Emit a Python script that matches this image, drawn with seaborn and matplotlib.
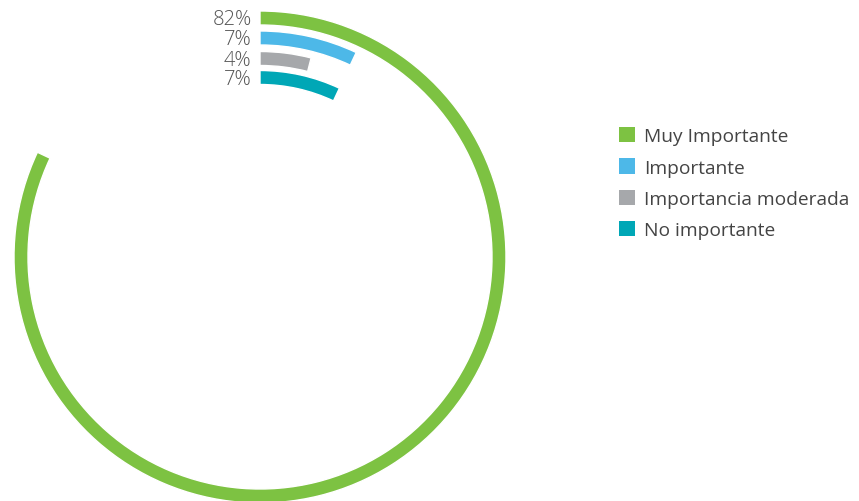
import numpy as np
import matplotlib.pyplot as plt
import seaborn as sns
from matplotlib.patches import Patch

# Data
categories = ["Muy Importante", "Importante", "Importancia moderada", "No importante"]
percentages = [82, 7, 4, 7]
colors = ["#7DC242", "#4DB8E8", "#A6A8AB", "#00A7B6"]

# radial position of each ring (pixels of a 250 px radius axis)
radii = [239, 219, 198.5, 179.5]
thickness = 14

sns.set_theme(style="white")
plt.rcParams['font.family'] = ['Open Sans', 'DejaVu Sans']

fig = plt.figure(figsize=(8.59, 5.02), dpi=100)
ax = fig.add_axes([10 / 859, -6 / 502, 500 / 859, 500 / 502], projection='polar')
ax.set_theta_zero_location('N')
ax.set_theta_direction(-1)
ax.set_rlim(0, 250)

# one arc per category, length proportional to its share of the full circle
theta = np.deg2rad(np.array(percentages) * 3.6)
ax.barh(radii, theta, left=0, height=thickness, color=colors, align='center')

for r, p in zip(radii, percentages):
    ax.annotate(f"{p}%", xy=(0, r), xytext=(-6, -1), textcoords='offset points',
                ha='right', va='center', fontsize=14.5, color='#555555', fontweight='light')

ax.set_axis_off()

handles = [Patch(facecolor=c, edgecolor='none') for c in colors]
fig.legend(handles, categories, loc='upper left', bbox_to_anchor=(619 / 859, 1 - 128 / 502),
           frameon=False, fontsize=13.8, handlelength=0.85, handleheight=0.85,
           handletextpad=0.45, labelspacing=0.68, borderaxespad=0, borderpad=0,
           labelcolor='#444444')

fig.savefig('out.png', dpi=100, facecolor='white')
